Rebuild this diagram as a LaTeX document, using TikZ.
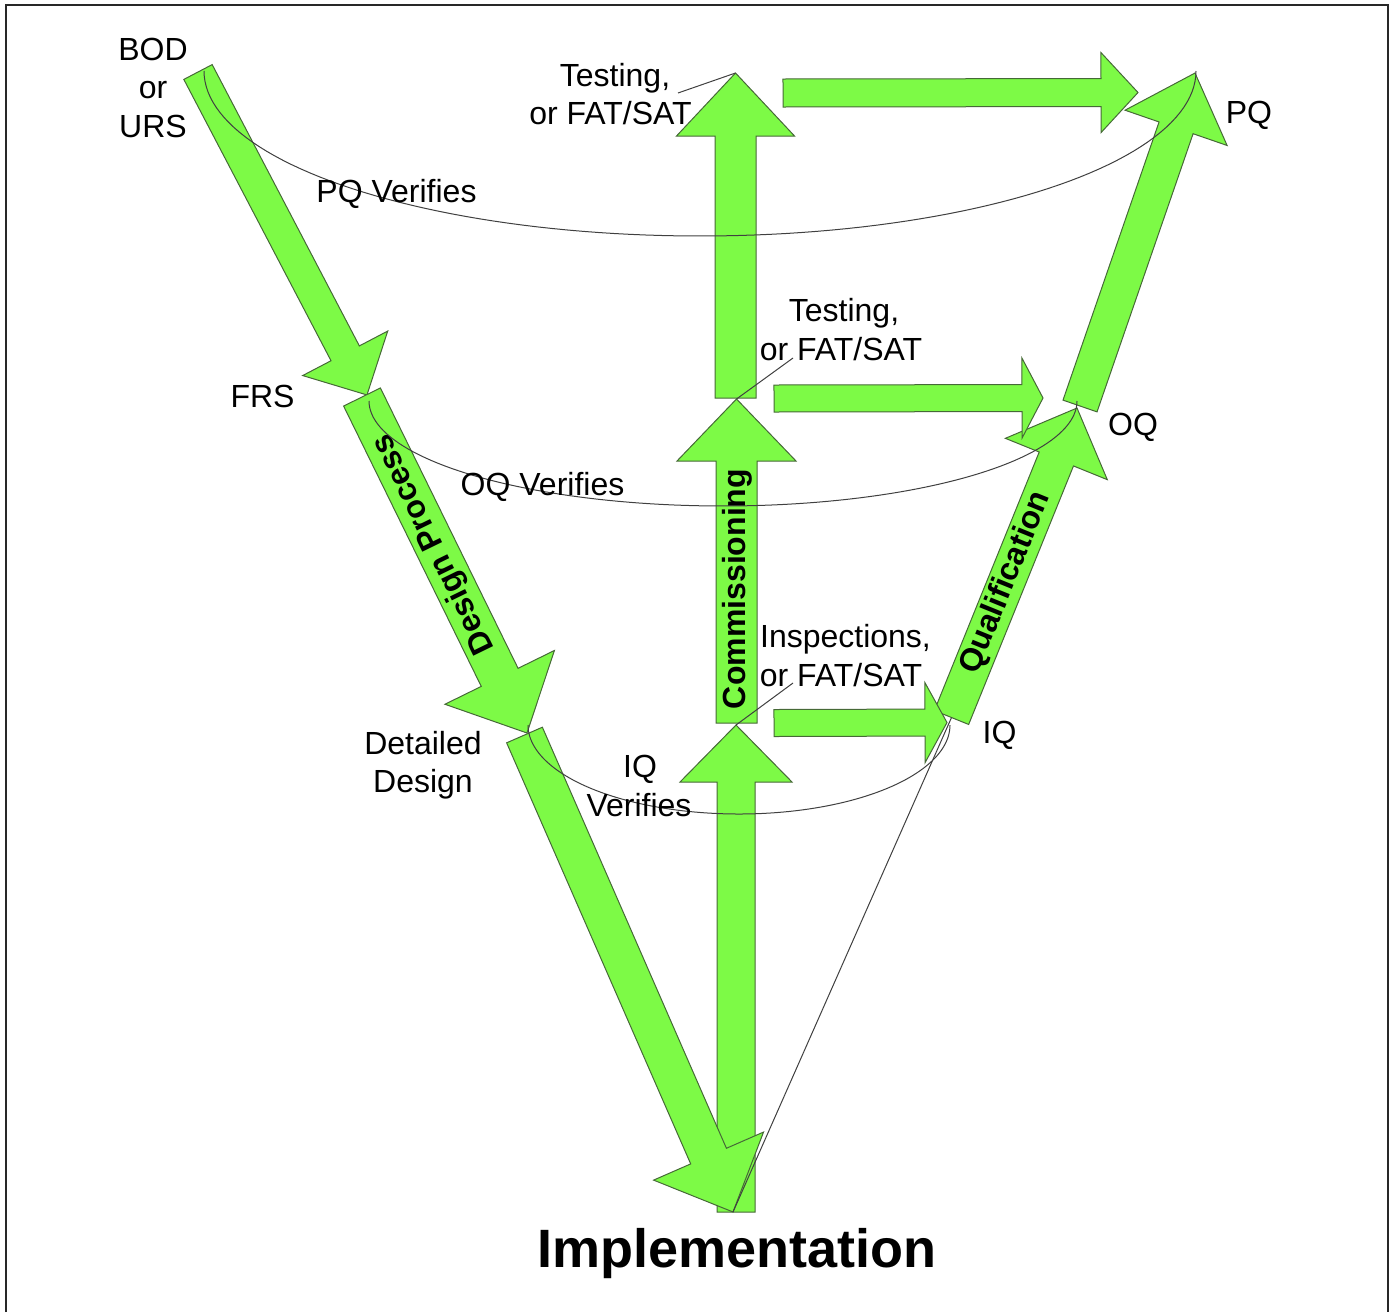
\documentclass[tikz,border=0pt]{standalone}
\usepackage{fontspec}
\setmainfont{Liberation Sans}
\definecolor{arrowgreen}{RGB}{125,250,70}
\definecolor{arrowedge}{RGB}{70,105,55}
\definecolor{frameline}{RGB}{40,40,40}
\tikzset{
  blockarrow/.style={fill=arrowgreen, draw=arrowedge, line width=0.5pt, line join=miter},
  thinline/.style={draw=black!75, line width=0.5pt},
  lbl/.style={font=\fontsize{16}{19.5}\selectfont, inner sep=0pt, anchor=base},
  phaselbl/.style={font=\fontsize{16}{19.5}\selectfont\bfseries, inner sep=0pt},
  titlelbl/.style={font=\fontsize{27}{32}\selectfont\bfseries, inner sep=0pt, anchor=base},
}
% Block arrow: start centre (#1,#2), tip (#3,#4), shaft half width #5,
% head half width #6, head length #7 (all in picture units)
\newcommand\greenarrow[7]{%
  \pgfmathsetmacro\gaAng{atan2((#2)-(#4),(#3)-(#1))}%
  \pgfmathsetmacro\gaLen{veclen((#3)-(#1),(#4)-(#2))}%
  \pgfmathsetmacro\gaNeck{\gaLen-(#7)}%
  \begin{scope}[shift={(#1,#2)}, rotate=\gaAng, x=0.5pt, y=0.5pt]
    \draw[blockarrow] (0,#5) -- (\gaNeck,#5) -- (\gaNeck,#6) -- (\gaLen,0)
      -- (\gaNeck,-#6) -- (\gaNeck,-#5) -- (0,-#5) -- cycle;
  \end{scope}}
\begin{document}
\begin{tikzpicture}[x=0.5pt,y=-0.5pt]
\useasboundingbox (0,0) rectangle (1395,1312);
% frame
\draw[frameline, line width=1pt] (5.5,1312) -- (5.5,5) -- (1388,5) -- (1388,1312);

% key points
\coordinate (bodpt) at (198,72);
\coordinate (frspt) at (367,395);
\coordinate (ddpt) at (527,733);
\coordinate (implpt) at (733,1212);
\coordinate (iqin) at (736,725);
\coordinate (oqin) at (736.5,399);
\coordinate (pqin) at (735.5,73);
\coordinate (iqpt) at (951.5,717.5);
\coordinate (oqpt) at (1077,408);
\coordinate (pqpt) at (1195,73);

% commissioning column
\greenarrow{736}{1212}{736}{725}{19}{56}{57}
\greenarrow{736.5}{723}{736.5}{399}{20.5}{59.5}{62}
\greenarrow{735.5}{398}{735.5}{73}{20.5}{59}{63}
% design branch
\greenarrow{198}{72}{367}{395}{16}{48}{47}
\greenarrow{362}{397}{527}{733}{20.5}{61}{62}
\greenarrow{524.5}{735}{733}{1212}{19.5}{60}{61}
% qualification branch
\greenarrow{951.5}{717.5}{1077}{408}{18.5}{55}{55}
\greenarrow{1080}{406}{1195}{73}{18}{54}{58}
% hand-over arrows
\greenarrow{783}{93}{1138}{92.5}{14}{40}{37}
\greenarrow{774}{398.5}{1043}{398}{13.5}{40}{21}
\greenarrow{774}{723}{947}{722.5}{13.5}{40}{22}

% phase names
\node[phaselbl, rotate=116] (design) at (434,544) {Design Process};
\node[phaselbl, rotate=90] (comm) at (737,589) {Commissioning};
\node[phaselbl, rotate=67.9] (qual) at (1006,583) {Qualification};

% verification arcs
\draw[thinline] plot[domain=180:360, samples=100] ({700+496*cos(\x)},{71-165*sin(\x)});
\draw[thinline] plot[domain=180:360, samples=100] ({723+354*cos(\x)},{401-105*sin(\x)});
\draw[thinline] plot[domain=180:360, samples=100] ({739+211*cos(\x)},{725-89*sin(\x)});
\draw[thinline] (implpt) -- (iqpt);

% labels
\node[lbl] (bod) at (153,60) {BOD};
\node[lbl] (bodor) at (153,98.5) {or};
\node[lbl] (urs) at (153,137) {URS};
\node[lbl] (pqv) at (396.5,202.5) {PQ Verifies};
\node[lbl] (frs) at (262.5,407.5) {FRS};
\node[lbl] (oqv) at (542.5,495.5) {OQ Verifies};
\node[lbl] (dd1) at (423,754.5) {Detailed};
\node[lbl] (dd2) at (423,792.5) {Design};
\node[lbl] (iqv1) at (640,777.5) {IQ};
\node[lbl] (iqv2) at (639,816.5) {Verifies};
\node[lbl] (t1a) at (615,86.5) {Testing,};
\node[lbl] (t1b) at (610.5,124.5) {or FAT/SAT};
\node[lbl] (t2a) at (844,321.5) {Testing,};
\node[lbl] (t2b) at (841,360.5) {or FAT/SAT};
\node[lbl] (t3a) at (845.5,647.5) {Inspections,};
\node[lbl] (t3b) at (841,686.5) {or FAT/SAT};
\node[lbl] (pq) at (1249,123.5) {PQ};
\node[lbl] (oq) at (1133,435.5) {OQ};
\node[lbl] (iq) at (999.5,743.5) {IQ};
\node[titlelbl] (impl) at (737,1267) {Implementation};

% leader lines
\coordinate (lead1) at (678,93);
\coordinate (lead2) at (793,358);
\coordinate (lead3) at (793,683);
\draw[thinline] (lead1) -- (pqin);
\draw[thinline] (lead2) -- (oqin);
\draw[thinline] (lead3) -- (iqin);
\end{tikzpicture}
\end{document}
